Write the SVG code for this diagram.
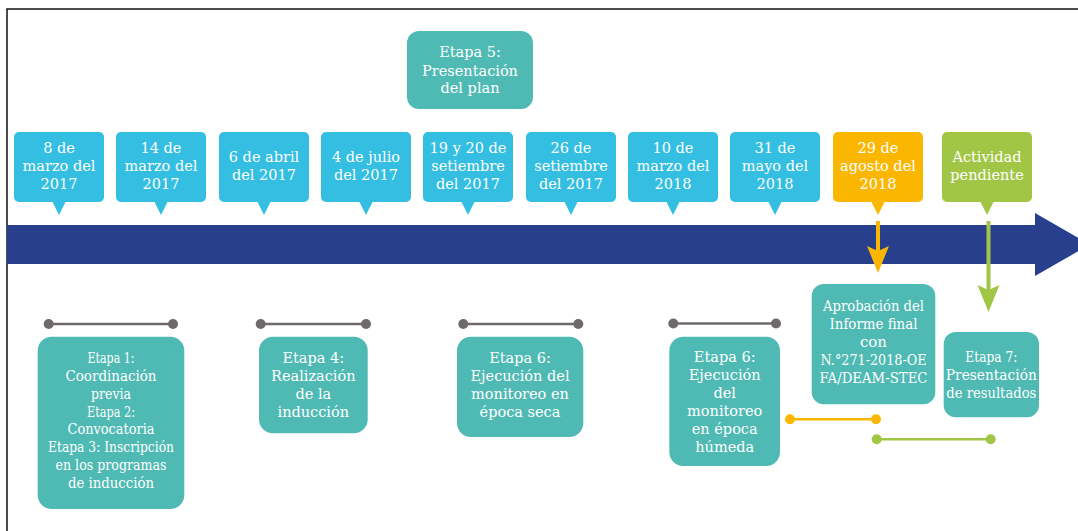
<svg xmlns="http://www.w3.org/2000/svg" width="1078" height="531" viewBox="0 0 1078 531">
<style>
.frame{fill:none;stroke:#111;stroke-width:1.5}
.date{fill:#33BEE2}
.orange{fill:#FBB700}
.green{fill:#A1C646}
.teal{fill:#4FBAB3}
text{font-family:"DejaVu Serif","Liberation Serif",serif;font-size:14.5px;fill:#fff;text-anchor:middle}
.gray{stroke:#6E6A6A;stroke-width:2.5;fill:none}
.grayd{fill:#6E6A6A}
.ol{stroke:#FBB700;stroke-width:2.5;fill:none}
.od{fill:#FBB700}
.gl{stroke:#A1C646;stroke-width:2.5;fill:none}
.gd{fill:#A1C646}
.oa{stroke:#FBB700;stroke-width:4;fill:none}
.ga{stroke:#A1C646;stroke-width:4;fill:none}
</style>
<rect x="0" y="0" width="1078" height="531" fill="#fff"/>
<rect class="frame" x="7" y="9" width="1090" height="540"/>
<g id="timeline">
<polygon fill="#283F8D" points="7,225 1035,225 1035,213 1090,244.5 1035,276 1035,264 7,264"/>
</g>
<g id="etapa5">
<rect class="teal" x="407" y="31" width="126" height="78" rx="12"/>
<text x="470" y="57">Etapa 5:</text>
<text x="470" y="75.5">Presentación</text>
<text x="470" y="93">del plan</text>
</g>
<g id="d1"><rect class="date" x="14" y="132" width="90" height="70" rx="5"/><polygon class="date" points="52,201 66,201 59,215"/>
<text x="59" y="153">8 de</text><text x="59" y="171">marzo del</text><text x="59" y="188.5">2017</text></g>
<g id="d2"><rect class="date" x="116" y="132" width="90" height="70" rx="5"/><polygon class="date" points="154,201 168,201 161,215"/>
<text x="161" y="153">14 de</text><text x="161" y="171">marzo del</text><text x="161" y="188.5">2017</text></g>
<g id="d3"><rect class="date" x="219" y="132" width="90" height="70" rx="5"/><polygon class="date" points="257,201 271,201 264,215"/>
<text x="264" y="162">6 de abril</text><text x="264" y="180">del 2017</text></g>
<g id="d4"><rect class="date" x="321" y="132" width="90" height="70" rx="5"/><polygon class="date" points="359,201 373,201 366,215"/>
<text x="366" y="162">4 de julio</text><text x="366" y="180">del 2017</text></g>
<g id="d5"><rect class="date" x="423" y="132" width="90" height="70" rx="5"/><polygon class="date" points="461,201 475,201 468,215"/>
<text x="468" y="153">19 y 20 de</text><text x="468" y="171">setiembre</text><text x="468" y="188.5">del 2017</text></g>
<g id="d6"><rect class="date" x="526" y="132" width="90" height="70" rx="5"/><polygon class="date" points="564,201 578,201 571,215"/>
<text x="571" y="153">26 de</text><text x="571" y="171">setiembre</text><text x="571" y="188.5">del 2017</text></g>
<g id="d7"><rect class="date" x="628" y="132" width="90" height="70" rx="5"/><polygon class="date" points="666,201 680,201 673,215"/>
<text x="673" y="153">10 de</text><text x="673" y="171">marzo del</text><text x="673" y="188.5">2018</text></g>
<g id="d8"><rect class="date" x="730" y="132" width="90" height="70" rx="5"/><polygon class="date" points="768,201 782,201 775,215"/>
<text x="775" y="153">31 de</text><text x="775" y="171">mayo del</text><text x="775" y="188.5">2018</text></g>
<g id="d9"><rect class="orange" x="833" y="132" width="90" height="70" rx="5"/><polygon class="orange" points="871,201 885,201 878,215"/>
<text x="878" y="153">29 de</text><text x="878" y="171">agosto del</text><text x="878" y="188.5">2018</text></g>
<g id="d10"><rect class="green" x="942" y="132" width="90" height="70" rx="5"/><polygon class="green" points="980,201 994,201 987,215"/>
<text x="987" y="162">Actividad</text><text x="987" y="180">pendiente</text></g>
<g id="connectors">
<line class="gray" x1="48.7" y1="324" x2="173" y2="324"/><circle class="grayd" cx="48.7" cy="324" r="5"/><circle class="grayd" cx="173" cy="324" r="5"/>
<line class="gray" x1="260.7" y1="324" x2="366" y2="324"/><circle class="grayd" cx="260.7" cy="324" r="5"/><circle class="grayd" cx="366" cy="324" r="5"/>
<line class="gray" x1="463.3" y1="324" x2="578.3" y2="324"/><circle class="grayd" cx="463.3" cy="324" r="5"/><circle class="grayd" cx="578.3" cy="324" r="5"/>
<line class="gray" x1="673.3" y1="323.5" x2="776" y2="323.5"/><circle class="grayd" cx="673.3" cy="323.5" r="5"/><circle class="grayd" cx="776" cy="323.5" r="5"/>
<line class="ol" x1="790" y1="419.3" x2="876" y2="419.3"/><circle class="od" cx="790" cy="419.3" r="5"/><circle class="od" cx="876" cy="419.3" r="5"/>
<line class="gl" x1="876.7" y1="439.3" x2="990.7" y2="439.3"/><circle class="gd" cx="876.7" cy="439.3" r="5"/><circle class="gd" cx="990.7" cy="439.3" r="5"/>
<line class="oa" x1="878" y1="221" x2="878" y2="252"/><polygon class="od" points="867,246 878,251 889,246 878,273"/>
<line class="ga" x1="988.5" y1="221" x2="988.5" y2="290"/><polygon class="gd" points="977.5,285 988.5,290 999.5,285 988.5,312"/>
</g>
<g id="etapa1-3">
<rect class="teal" x="37.7" y="336.7" width="146.6" height="172.3" rx="14"/>
<text x="111" y="363.3" textLength="47" lengthAdjust="spacingAndGlyphs">Etapa 1:</text>
<text x="111" y="381" textLength="91" lengthAdjust="spacingAndGlyphs">Coordinación</text>
<text x="111" y="398.7" textLength="40" lengthAdjust="spacingAndGlyphs">previa</text>
<text x="111" y="416.7" textLength="48" lengthAdjust="spacingAndGlyphs">Etapa 2:</text>
<text x="111" y="434.3" textLength="87" lengthAdjust="spacingAndGlyphs">Convocatoria</text>
<text x="111" y="452.3" textLength="126" lengthAdjust="spacingAndGlyphs">Etapa 3: Inscripción</text>
<text x="111" y="470" textLength="111" lengthAdjust="spacingAndGlyphs">en los programas</text>
<text x="111" y="487.7" textLength="86" lengthAdjust="spacingAndGlyphs">de inducción</text>
</g>
<g id="etapa4">
<rect class="teal" x="259" y="336.7" width="108.7" height="96.6" rx="14"/>
<text x="313.3" y="363.3">Etapa 4:</text>
<text x="313.3" y="381">Realización</text>
<text x="313.3" y="399">de la</text>
<text x="313.3" y="416.7">inducción</text>
</g>
<g id="etapa6-seca">
<rect class="teal" x="457" y="336.7" width="126.3" height="100.3" rx="14"/>
<text x="520" y="363.3">Etapa 6:</text>
<text x="520" y="381">Ejecución del</text>
<text x="520" y="399">monitoreo en</text>
<text x="520" y="416.7">época seca</text>
</g>
<g id="etapa6-humeda">
<rect class="teal" x="669.3" y="336.7" width="110.7" height="129.3" rx="14"/>
<text x="724.7" y="362">Etapa 6:</text>
<text x="724.7" y="380">Ejecución</text>
<text x="724.7" y="398">del</text>
<text x="724.7" y="416">monitoreo</text>
<text x="724.7" y="434">en época</text>
<text x="724.7" y="452">húmeda</text>
</g>
<g id="aprobacion">
<rect class="teal" x="811.7" y="284" width="123.6" height="120.3" rx="12"/>
<text x="873.5" y="310.7" textLength="101" lengthAdjust="spacingAndGlyphs">Aprobación del</text>
<text x="873.5" y="328.7" textLength="88" lengthAdjust="spacingAndGlyphs">Informe final</text>
<text x="873.5" y="346.5" textLength="27" lengthAdjust="spacingAndGlyphs">con</text>
<text x="873.5" y="365" textLength="106" lengthAdjust="spacingAndGlyphs">N.°271-2018-OE</text>
<text x="873.5" y="383.3" textLength="108" lengthAdjust="spacingAndGlyphs">FA/DEAM-STEC</text>
</g>
<g id="etapa7">
<rect class="teal" x="943.7" y="332" width="95.3" height="85.3" rx="12"/>
<text x="991.3" y="361.7" textLength="52" lengthAdjust="spacingAndGlyphs">Etapa 7:</text>
<text x="991.3" y="379.7" textLength="91" lengthAdjust="spacingAndGlyphs">Presentación</text>
<text x="991.3" y="397.7" textLength="90" lengthAdjust="spacingAndGlyphs">de resultados</text>
</g>
</svg>
